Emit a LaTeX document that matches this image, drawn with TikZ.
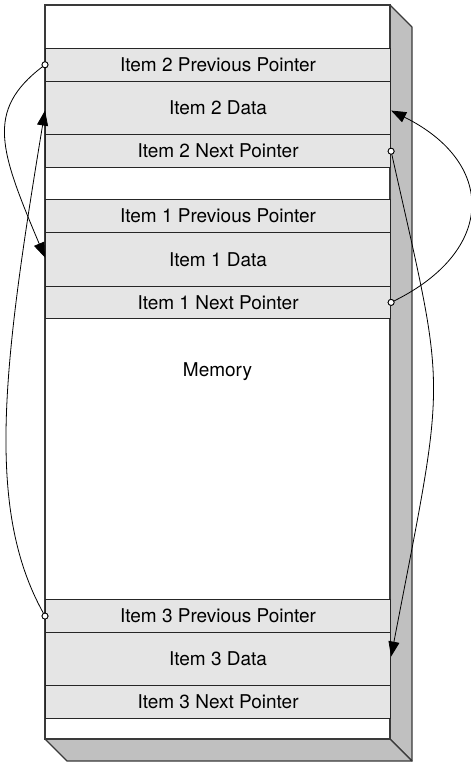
\documentclass[tikz,border=0pt]{standalone}
\usepackage{fontspec}
\setmainfont{TeX Gyre Heros}
\usetikzlibrary{arrows.meta}
\definecolor{bandgray}{HTML}{E5E5E5}
\definecolor{sidegray}{HTML}{C0C0C0}
\definecolor{edgegray}{HTML}{3A3A3A}
\tikzset{
  band/.style={draw=black!85, line width=1.1pt, fill=bandgray, rectangle,
    minimum width=345pt, inner sep=0pt, anchor=north west,
    font=\fontsize{19}{22}\selectfont},
  face/.style={draw=edgegray, line width=1.2pt, fill=sidegray, line join=round},
  ptr/.style={draw=black, line width=0.8pt, fill=white, circle, inner sep=0pt, minimum size=6pt},
  link/.style={draw=black, line width=0.8pt, -{Triangle[length=15pt,width=11pt]}}
}
\begin{document}
\begin{tikzpicture}[x=1pt,y=-1pt]
\useasboundingbox (0,0) rectangle (471,766);
% 3D faces
\path[face] (390,5) -- (412,27) -- (412,761) -- (390,739) -- cycle;
\path[face] (45,739) -- (390,739) -- (412,761) -- (67,761) -- cycle;
% front
\node[draw=edgegray, line width=1.1pt, fill=white, rectangle, minimum width=345pt,
  minimum height=734pt, inner sep=0pt, font=\fontsize{19}{22}\selectfont]
  (mem) at (217.5,372) {Memory};
% bands
\node[band, minimum height=33pt]   (b2p) at (45,47.7)  {Item 2 Previous Pointer};
\node[band, minimum height=53.6pt] (b2d) at (45,80.7)  {Item 2 Data};
\node[band, minimum height=32.7pt] (b2n) at (45,134.3) {Item 2 Next Pointer};
\node[band, minimum height=32.7pt] (b1p) at (45,199.3) {Item 1 Previous Pointer};
\node[band, minimum height=54pt]   (b1d) at (45,232)   {Item 1 Data};
\node[band, minimum height=31.7pt] (b1n) at (45,286)   {Item 1 Next Pointer};
\node[band, minimum height=32.4pt] (b3p) at (45,599.3) {Item 3 Previous Pointer};
\node[band, minimum height=53.6pt] (b3d) at (45,631.7) {Item 3 Data};
\node[band, minimum height=32.7pt] (b3n) at (45,685.3) {Item 3 Next Pointer};
% pointer circles
\node[ptr] (c2p) at (b2p.west) {};
\node[ptr] (c2n) at (b2n.east) {};
\node[ptr] (c1n) at (b1n.east) {};
\node[ptr] (c3p) at (b3p.west) {};
\coordinate (t2dl) at ([yshift=-2.5pt]b2d.west);
\coordinate (t2dr) at ([yshift=-2.5pt]b2d.east);
\coordinate (t1dl) at ([yshift=2pt]b1d.west);
\coordinate (t3dr) at ([yshift=2.5pt]b3d.east);
% connectors
\draw[link] (c2p) .. controls +(-60,46) and +(-45,-107) .. (t1dl);
\draw[link] (c3p) .. controls +(-60,-108) and +(-42,255) .. (t2dl);
\draw[link] (c1n) .. controls +(105,-52) and +(105,52) .. (t2dr);
\draw[link] (c2n) .. controls +(56,250) and +(56,-291) .. (t3dr);
% redraw circles on top
\node[ptr] at (c2p) {};
\node[ptr] at (c2n) {};
\node[ptr] at (c1n) {};
\node[ptr] at (c3p) {};
\end{tikzpicture}
\end{document}
